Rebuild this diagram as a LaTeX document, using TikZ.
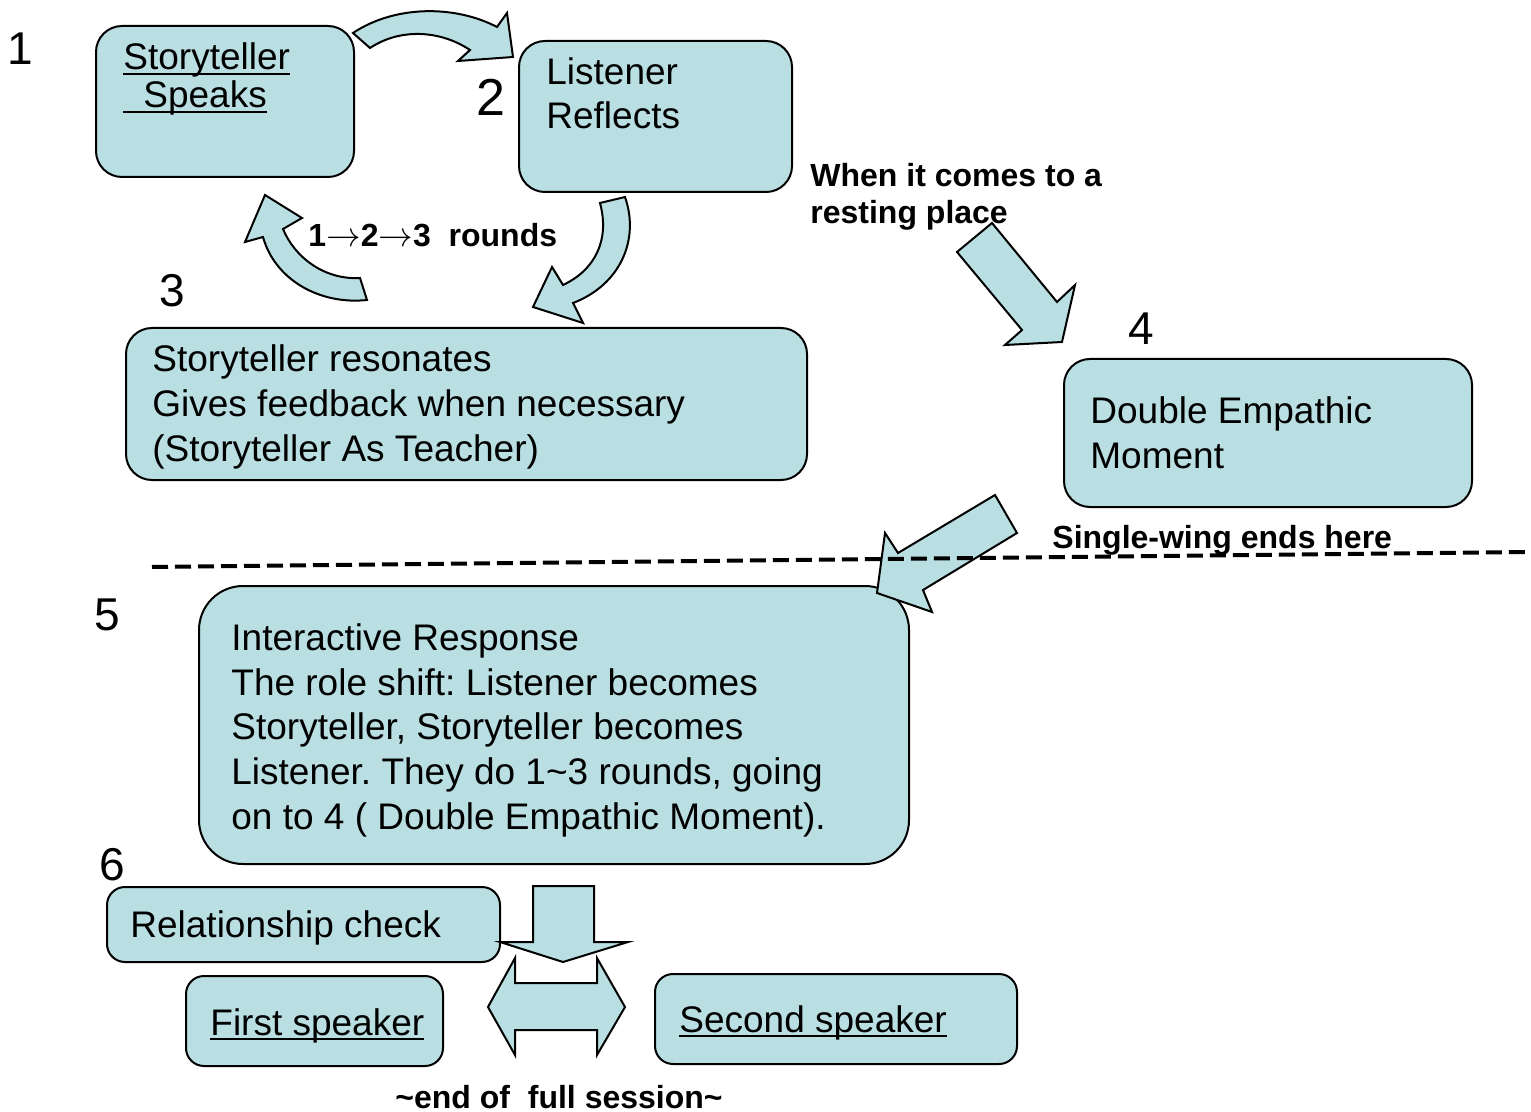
\documentclass[tikz,border=0pt]{standalone}
\usepackage{fontspec}
\setmainfont{Liberation Sans}
\usepackage{xcolor}
\definecolor{boxfill}{HTML}{B9DFE3}
\newcommand{\ulin}[1]{\setbox0\hbox{#1}\rlap{\rule[-2.6pt]{\wd0}{1pt}}\box0}
\frenchspacing

\begin{document}
\begin{tikzpicture}[x=0.5pt,y=-0.5pt,
  box/.style={draw,line width=1pt,fill=boxfill,rounded corners=13pt,anchor=north west,inner sep=0pt},
  blockarrow/.style={draw,line width=1pt,fill=boxfill,line join=miter},
  txt/.style={anchor=base west,align=left,inner sep=0pt,font=\fontsize{18.5}{22.3}\selectfont},
  bold/.style={anchor=base west,align=left,inner sep=0pt,font=\fontsize{16}{18.5}\selectfont\bfseries},
  num/.style={inner sep=0pt,font=\fontsize{23}{27}\selectfont}]
\useasboundingbox (0,0) rectangle (1531,1112);

\node[box,minimum width=129pt,minimum height=75.5pt] (speaks) at (95,25) {};
\node[box,minimum width=136.5pt,minimum height=75.5pt] (reflects) at (518,40) {};
\node[box,minimum width=340.5pt,minimum height=76pt] (resonates) at (125,327) {};
\node[box,minimum width=204pt,minimum height=74pt] (empathic) at (1063,358) {};
\node[box,minimum width=355pt,minimum height=139pt,rounded corners=22pt] (interactive) at (198,585) {};
\node[box,minimum width=196.5pt,minimum height=37.5pt,rounded corners=9pt] (relcheck) at (106,886) {};
\node[box,minimum width=128.5pt,minimum height=45pt,rounded corners=9pt] (first) at (185,975) {};
\node[box,minimum width=181pt,minimum height=45pt,rounded corners=9pt] (second) at (654,973) {};

% multi-line texts sit on the baseline of their last line
\node[txt] (speakstxt) at (123,108) {\ulin{Storyteller}\\[-3pt]\ulin{\hspace{10pt}Speaks}};
\node[txt] (reflectstxt) at (546,129) {Listener\\Reflects};
\node[txt] (resonatestxt) at (152,461) {Storyteller resonates\\Gives feedback when necessary\\(Storyteller As Teacher)};
\node[txt] (empathictxt) at (1090,468) {Double Empathic\\Moment};
\node[txt] (interactivetxt) at (231,829) {Interactive Response\\The role shift: Listener becomes\\Storyteller, Storyteller becomes\\Listener. They do 1\textasciitilde3 rounds, going\\on to 4 ( Double Empathic Moment).};
\node[txt] (relchecktxt) at (130,937) {Relationship check};
\node[txt] (firsttxt) at (210,1035) {\ulin{First speaker}};
\node[txt] (secondtxt) at (679,1032) {\ulin{Second speaker}};

\node[num] (n1) at (20,49) {1};
\node[num,font=\fontsize{26}{30}\selectfont] (n2) at (491,97) {2};
\node[num] (n3) at (172,291) {3};
\node[num] (n4) at (1141,329) {4};
\node[num] (n5) at (107,615) {5};
\node[num] (n6) at (112,865) {6};

\node[bold] (rounds) at (308,247) {1$\rightarrow$2$\rightarrow$3~~rounds};
\node[bold] (resting) at (810,224) {When it comes to a\\resting place};
\node[bold,anchor=base] (session) at (559,1108) {\textasciitilde end of~~full session\textasciitilde};

% curved arrows of the 1-2-3 loop
\draw[blockarrow] (353,33) .. controls (395,5) and (455,5) .. (497,27) -- (507,13) -- (513,57) -- (458,61)
  -- (470,50) .. controls (440,30) and (400,28) .. (370,48) -- cycle;
\draw[blockarrow] (625,197) .. controls (640,240) and (620,285) .. (573,303) -- (583,323) -- (533,307) -- (552,267)
  -- (563,285) .. controls (595,270) and (610,240) .. (600,203) -- cycle;
\draw[blockarrow] (367,300) .. controls (320,305) and (275,280) .. (263,237) -- (245,242) -- (265,195) -- (302,218)
  -- (283,229) .. controls (295,258) and (325,280) .. (360,278) -- cycle;

\draw[blockarrow] (957,252) -- (992,223) -- (1057,302) -- (1075,285) -- (1062,342) -- (1005,345) -- (1022,330) -- cycle;
\draw[blockarrow] (995,495) -- (1017,533) -- (923,590) -- (932,612) -- (877,593) -- (885,533) -- (898,553) -- cycle;

\coordinate (lineL) at (152,567);
\coordinate (lineR) at (1531,552);
\draw[line width=2pt,dash pattern=on 8pt off 3.5pt] (lineL) -- (lineR);
\node[bold] (single) at (1052,548) {Single-wing ends here};

\draw[blockarrow] (533,886) -- (594,886) -- (594,942) -- (628,942) -- (563,962) -- (500,942) -- (533,942) -- cycle;
\draw[blockarrow] (488,1007) -- (515,958) -- (515,983) -- (597,983) -- (597,958) -- (625,1007) -- (597,1055)
  -- (597,1030) -- (515,1030) -- (515,1055) -- cycle;
\end{tikzpicture}
\end{document}
